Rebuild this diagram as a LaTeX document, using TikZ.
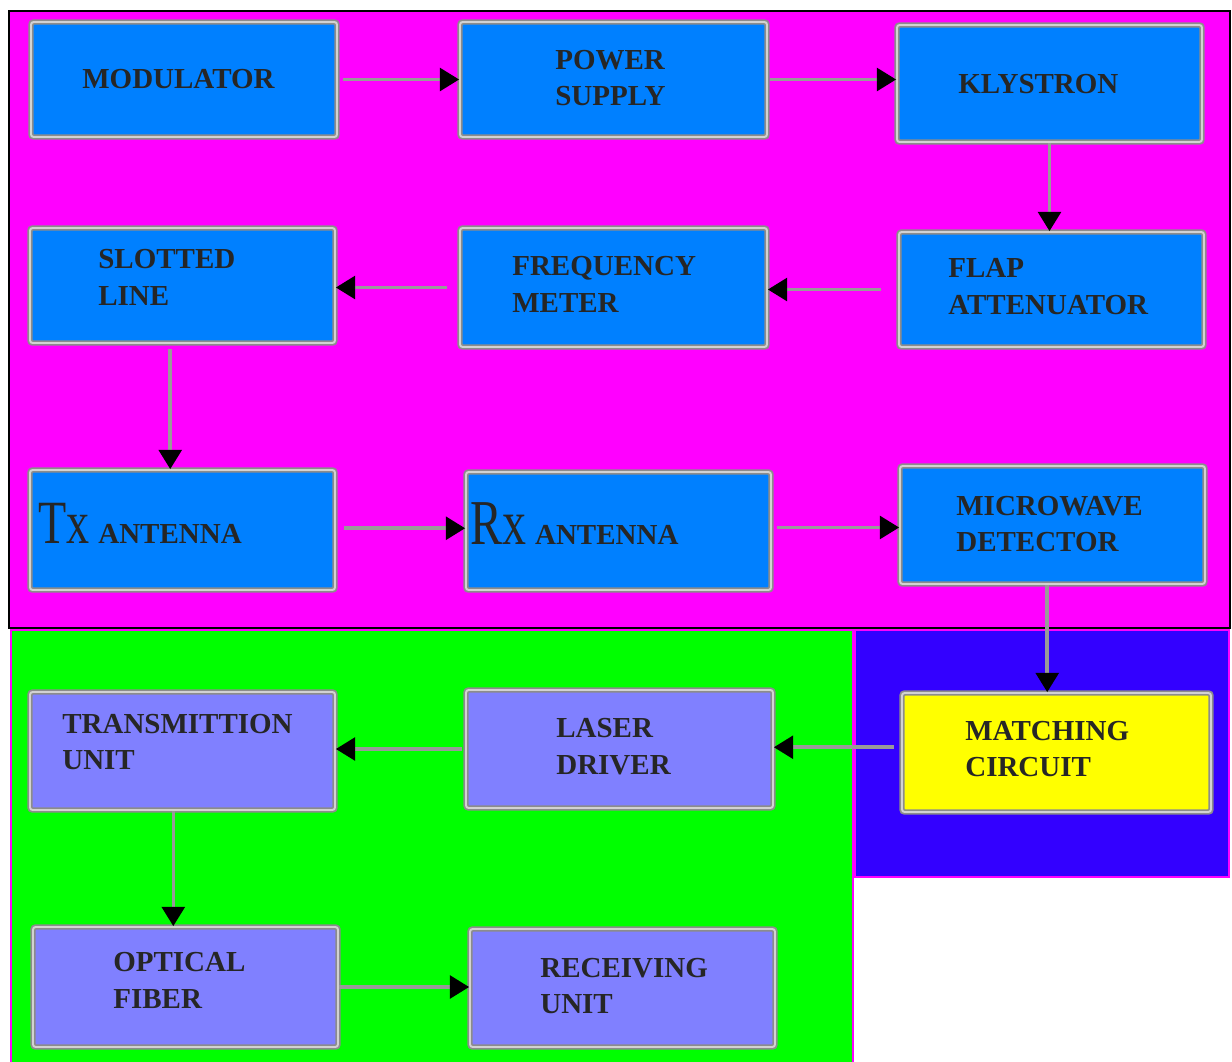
\documentclass[tikz,border=0pt]{standalone}
\usepackage{fontspec}
\setmainfont{Liberation Serif}
\usepackage{graphicx}
\usetikzlibrary{arrows.meta,fit,calc}
\definecolor{mag}{RGB}{255,0,255}
\definecolor{grn}{RGB}{0,255,0}
\definecolor{deepblue}{RGB}{51,0,255}
\definecolor{boxblue}{RGB}{0,128,255}
\definecolor{lav}{RGB}{128,128,255}
\definecolor{yel}{RGB}{255,255,0}
\begin{document}
\begin{tikzpicture}[x=0.02cm,y=-0.02cm,
  box/.style={draw=gray!90, double=gray!35, double distance=1.1pt, line width=1pt, rounded corners=1.5pt, inner sep=0pt},
  bluebox/.style={box, fill=boxblue},
  lavbox/.style={box, fill=lav},
  yelbox/.style={box, fill=yel},
  lbl/.style={font=\bfseries\fontsize{16.5}{21}\selectfont, align=left, anchor=west, inner sep=0pt, text=black!85},
  arr/.style={draw=gray!80, line width=2pt, -{Triangle[length=11pt,width=13pt,color=black]}}
]
\useasboundingbox (0,0) rectangle (1232,1062);
\fill[white] (0,0) rectangle (1232,1062);
% regions
\filldraw[fill=mag, draw=black, line width=1.2pt] (9,11) rectangle (1230,628);
\filldraw[fill=grn, draw=mag, line width=0.6pt] (11,630) rectangle (853,1068);
\filldraw[fill=deepblue, draw=mag, line width=0.6pt] (855,630) rectangle (1229,877);

% boxes
\node[bluebox, fit={(31,22)(337,137)}] (mod) {};
\node[bluebox, fit={(460,22)(767,137)}] (ps) {};
\node[bluebox, fit={(897,25)(1202,142)}] (kly) {};
\node[bluebox, fit={(30,228)(335,343)}] (slot) {};
\node[bluebox, fit={(460,228)(767,347)}] (freq) {};
\node[bluebox, fit={(899,232)(1204,347)}] (flap) {};
\node[bluebox, fit={(30,470)(335,590)}] (tx) {};
\node[bluebox, fit={(466,472)(771,590)}] (rx) {};
\node[bluebox, fit={(900,466)(1205,584)}] (mw) {};
\node[lavbox, fit={(30,692)(335,810)}] (trans) {};
\node[lavbox, fit={(466,690)(773,808)}] (laser) {};
\node[yelbox, fit={(902,693)(1211,812)}] (match) {};
\node[lavbox, fit={(33,927)(338,1047)}] (opt) {};
\node[lavbox, fit={(470,929)(775,1047)}] (recv) {};

% labels
\node[lbl] (modt) at (82,79) {MODULATOR};
\node[lbl] (pst) at (555,78) {POWER\\SUPPLY};
\node[lbl] (klyt) at (958,84) {KLYSTRON};
\node[lbl] (slott) at (98,277) {SLOTTED\\LINE};
\node[lbl] (freqt) at (512,284) {FREQUENCY\\METER};
\node[lbl] (flapt) at (948,287) {FLAP\\ATTENUATOR};
\node[inner sep=0pt, anchor=base west, text=black!85] (txt) at (38,543)
  {\scalebox{1.05}[1.4]{\fontsize{25}{25}\selectfont Tx}\hspace{5pt}{\bfseries\fontsize{16.5}{21}\selectfont ANTENNA}};
\node[inner sep=0pt, anchor=base west, text=black!85] (rxt) at (470,544)
  {\scalebox{1.05}[1.4]{\fontsize{26}{26}\selectfont Rx}\hspace{5pt}{\bfseries\fontsize{16.5}{21}\selectfont ANTENNA}};
\node[lbl] (mwt) at (956,524) {MICROWAVE\\DETECTOR};
\node[lbl] (transt) at (62,742) {TRANSMITTION\\UNIT};
\node[lbl] (lasert) at (556,747) {LASER\\DRIVER};
\node[lbl] (matcht) at (965,749) {MATCHING\\CIRCUIT};
\node[lbl] (optt) at (113,980) {OPTICAL\\FIBER};
\node[lbl] (recvt) at (540,986) {RECEIVING\\UNIT};

% connectors
\draw[arr, shorten <=3pt] (mod.east) -- (ps.west);
\draw[arr, shorten <=1pt] (ps.east) -- (ps.east -| kly.west);
\draw[arr] (kly.south) -- (kly.south |- flap.north);
\draw[arr, shorten <=9.5pt] (flap.west) -- (flap.west -| freq.east);
\draw[arr, shorten <=7pt] (freq.west) -- (freq.west -| slot.east);
\coordinate (sl) at ($(slot.south west)!0.46!(slot.south east)$);
\draw[arr, shorten <=3pt] (sl) -- (sl |- tx.north);
\draw[arr, shorten <=4.5pt] ([yshift=1pt]tx.east) -- ([yshift=1pt]tx.east -| rx.west);
\draw[arr, shorten <=3pt] ([yshift=2pt]rx.east) -- ([yshift=2pt]rx.east -| mw.west);
\draw[arr] ([xshift=-3pt]mw.south) -- ([xshift=-3pt]mw.south |- match.north);
\draw[arr, shorten <=4pt] ([yshift=3pt]match.west) -- ([yshift=3pt]match.west -| laser.east);
\draw[arr, shorten <=2pt] (laser.west) -- (laser.west -| trans.east);
\coordinate (tr) at ($(trans.south west)!0.47!(trans.south east)$);
\draw[arr] (tr) -- (tr |- opt.north);
\draw[arr] (opt.east) -- (opt.east -| recv.west);
\end{tikzpicture}
\end{document}
